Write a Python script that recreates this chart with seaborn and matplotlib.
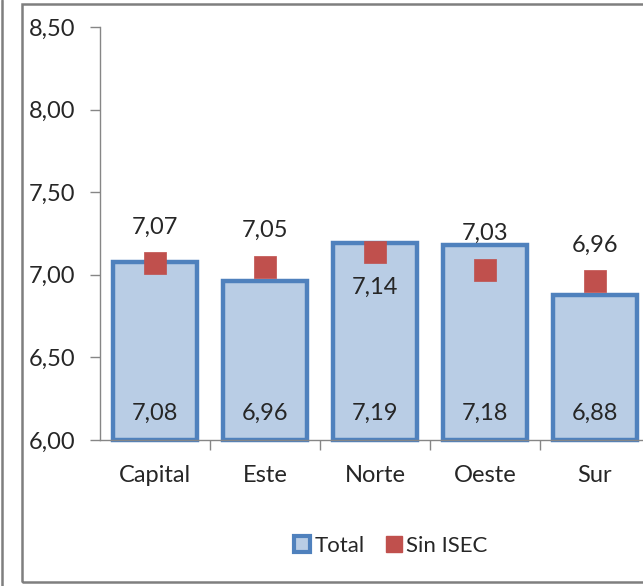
import matplotlib
matplotlib.use("Agg")
import matplotlib.pyplot as plt
from matplotlib.patches import Patch, Rectangle
from matplotlib.lines import Line2D
from matplotlib.ticker import FixedLocator, FuncFormatter
import pandas as pd
import seaborn as sns

# ---- data ----
regions = ["Capital", "Este", "Norte", "Oeste", "Sur"]
total = [7.08, 6.96, 7.19, 7.18, 6.88]
sin_isec = [7.07, 7.05, 7.14, 7.03, 6.96]
yticks = [6.00, 6.50, 7.00, 7.50, 8.00, 8.50]

sns.set_theme(style="white")
plt.rcParams["font.family"] = ["Lato", "DejaVu Sans"]

BLUE_EDGE = "#4F81BD"
BLUE_FILL = "#B9CDE5"
RED = "#C0504D"
GREY = "#868686"
TXT = "#262626"
FS = 17

df = pd.DataFrame({"region": regions, "total": total, "sin_isec": sin_isec})

W, H = 643, 586
fig = plt.figure(figsize=(W / 100, H / 100), dpi=100)
ax = fig.add_axes([100 / W, (H - 440) / H, 550 / W, 413 / H])

sns.barplot(data=df, x="region", y="total", color=BLUE_FILL, edgecolor=BLUE_EDGE,
            linewidth=3.2, width=0.76, saturation=1, ax=ax, zorder=2)
# bars start at the axis floor (6,00), like the Excel original
for p in ax.patches:
    top = p.get_y() + p.get_height()
    p.set_y(yticks[0]); p.set_height(top - yticks[0])
    p.set_clip_on(False)

sns.scatterplot(data=df, x="region", y="sin_isec", marker="s", s=230, color=RED,
                edgecolor=RED, linewidth=0.5, ax=ax, zorder=3, legend=False)

ax.set_ylim(yticks[0], yticks[-1])
ax.set_xlim(-0.5, len(regions) - 0.5)
ax.set_yticks(yticks)
ax.yaxis.set_major_formatter(FuncFormatter(lambda v, _: f"{v:.2f}".replace(".", ",")))
ax.xaxis.set_minor_locator(FixedLocator([i + 0.5 for i in range(len(regions))]))
ax.set_xlabel(""); ax.set_ylabel("")

for s in ["top", "right"]:
    ax.spines[s].set_visible(False)
for s in ["left", "bottom"]:
    ax.spines[s].set_color(GREY); ax.spines[s].set_linewidth(1)
ax.tick_params(axis="y", which="major", length=7, color=GREY, width=1, direction="out",
               left=True, pad=11, labelsize=FS, labelcolor=TXT)
ax.tick_params(axis="x", which="major", length=0, pad=18, labelsize=FS, labelcolor=TXT)
ax.tick_params(axis="x", which="minor", length=7, color=GREY, width=1, direction="out",
               bottom=True)

# value labels
for i, (t, s) in enumerate(zip(total, sin_isec)):
    ax.annotate(f"{t:.2f}".replace(".", ","), xy=(i, yticks[0]), xytext=(0, 19.5),
                textcoords="offset points", ha="center", va="center",
                fontsize=FS, color=TXT, zorder=4)
    dy = -26 if regions[i] == "Norte" else 26
    ax.annotate(f"{s:.2f}".replace(".", ","), xy=(i, s), xytext=(0, dy),
                textcoords="offset points", ha="center", va="center",
                fontsize=FS, color=TXT, zorder=4)

handles = [Patch(facecolor=BLUE_FILL, edgecolor=BLUE_EDGE, linewidth=3),
           Line2D([], [], marker="s", linestyle="none", markersize=12,
                  markerfacecolor=RED, markeredgecolor=RED)]
fig.legend(handles, ["Total", "Sin ISEC"], loc="center", bbox_to_anchor=(391 / W, (H - 546) / H),
           ncol=2, frameon=False, fontsize=16, handlelength=0.7, handleheight=0.7,
           handletextpad=0.2, columnspacing=1.0, labelcolor=TXT)

# chart frame (cropped on the right like the reference)
fig.add_artist(Rectangle((22 / W, 4 / H), 1.0, (582 - 4) / H, transform=fig.transFigure,
                         fill=False, edgecolor="#7F7F7F", linewidth=1.8))
fig.add_artist(Line2D([2 / W, 2 / W], [0, 1], transform=fig.transFigure,
                      color="#7F7F7F", linewidth=1.8))

fig.savefig("out.png", dpi=100)
